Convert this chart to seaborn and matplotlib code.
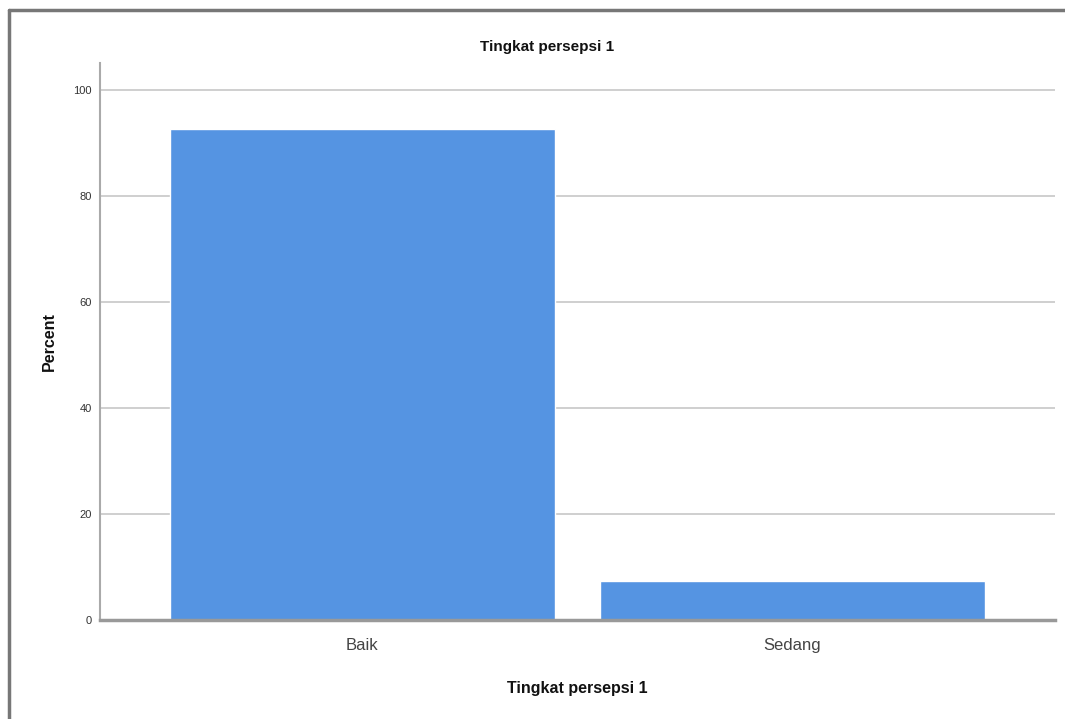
import matplotlib
matplotlib.use("Agg")
import matplotlib.pyplot as plt
import seaborn as sns
import pandas as pd
from matplotlib.lines import Line2D

# data
categories = ["Baik", "Sedang"]
percent = [92.6, 7.4]
yticks = [0, 20, 40, 60, 80, 100]

sns.set_theme(style="white")
plt.rcParams['font.family'] = ['Liberation Sans', 'DejaVu Sans']

df = pd.DataFrame({"cat": categories, "pct": percent})

fig = plt.figure(figsize=(10.65, 7.19), dpi=100)
ax = fig.add_axes([0.0939, 0.1377, 0.8967, 0.7747])

sns.barplot(data=df, x="cat", y="pct", color="#5594e2", saturation=1,
            width=0.895, ax=ax, zorder=3)

ax.set_ylim(0, 105)
ax.set_xlim(-0.61, 1.61)
ax.set_yticks(yticks)
ax.set_yticklabels([str(t) for t in yticks], fontsize=8, color="#333333")
ax.tick_params(axis="x", labelsize=12, colors="#444444", pad=13, length=0)
ax.tick_params(axis="y", length=0, pad=6)
ax.yaxis.grid(True, color="#cccccc", linewidth=1.3, zorder=0)
ax.xaxis.grid(False)

for s in ["top", "right"]:
    ax.spines[s].set_visible(False)
ax.spines["left"].set_color("#aaaaaa")
ax.spines["left"].set_linewidth(1.5)
ax.spines["bottom"].set_color("#999999")
ax.spines["bottom"].set_linewidth(2.5)
ax.spines["bottom"].set_zorder(4)

ax.set_xlabel("Tingkat persepsi 1", fontsize=11.5, fontweight="bold",
              labelpad=20, color="#111111")
ax.set_ylabel("Percent", fontsize=11.5, fontweight="bold", labelpad=12,
              color="#111111")

fig.text(0.514, 0.935, "Tingkat persepsi 1", ha="center", va="center",
         fontsize=11, fontweight="bold", color="#111111")

# grey frame from the screenshot (top and left edges)
fig.add_artist(Line2D([0.0085, 1.0], [0.9855, 0.9855], color="#777777",
                      linewidth=2.5, transform=fig.transFigure))
fig.add_artist(Line2D([0.0085, 0.0085], [0.0, 0.9855], color="#777777",
                      linewidth=2.5, transform=fig.transFigure))

fig.savefig("out.png", dpi=100, facecolor="white")
